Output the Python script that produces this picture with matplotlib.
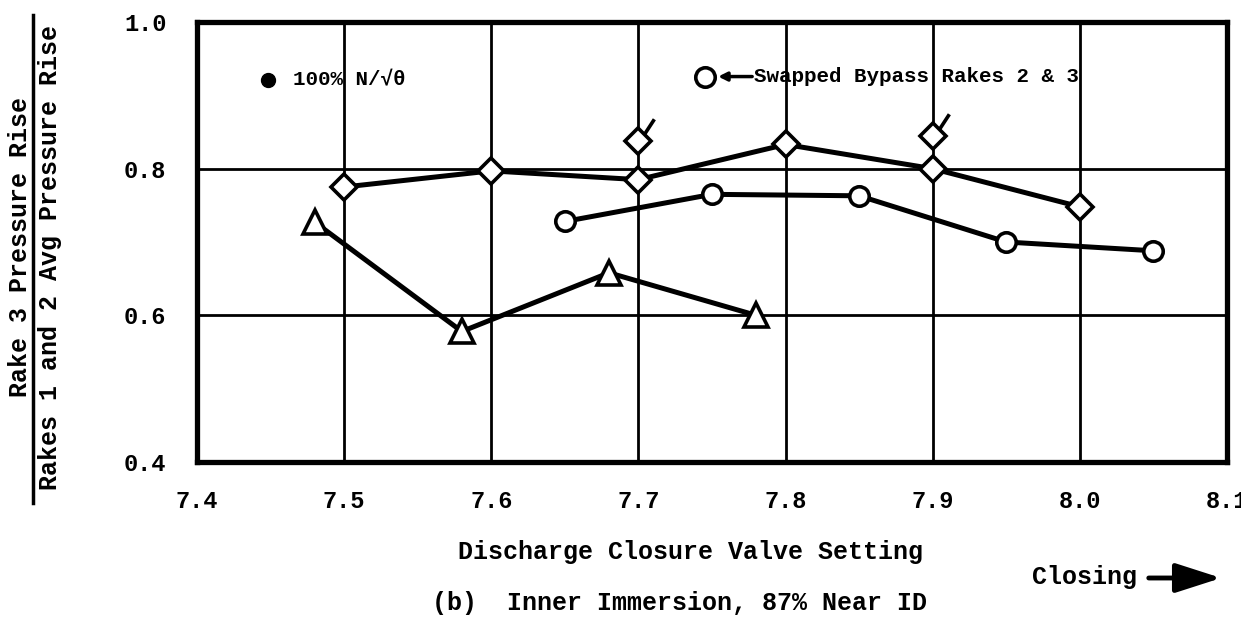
import numpy as np
import matplotlib
matplotlib.use("Agg")
import matplotlib.pyplot as plt
from matplotlib.path import Path
from matplotlib.lines import Line2D

plt.rcParams['font.family'] = ['Liberation Mono', 'DejaVu Sans Mono']
plt.rcParams['font.weight'] = 'bold'

# valve setting vs. pressure-rise ratio
diam_x = [7.5, 7.6, 7.7, 7.8, 7.9, 8.0]
diam_y = [0.775, 0.797, 0.785, 0.833, 0.800, 0.748]
flag_x = [7.7, 7.9]
flag_y = [0.838, 0.845]
circ_x = [7.65, 7.75, 7.85, 7.95, 8.05]
circ_y = [0.728, 0.765, 0.763, 0.700, 0.688]
tri_x = [7.48, 7.58, 7.68, 7.78]
tri_y = [0.727, 0.578, 0.658, 0.600]

xticks = [7.4, 7.5, 7.6, 7.7, 7.8, 7.9, 8.0, 8.1]
yticks = [0.4, 0.6, 0.8, 1.0]

W, H = 1241, 620
fig = plt.figure(figsize=(W / 100, H / 100), dpi=100)
ax = fig.add_axes([197 / W, 1 - 462 / H, (1227 - 197) / W, (462 - 22) / H])

ax.set_xlim(7.4, 8.1)
ax.set_ylim(0.4, 1.0)
ax.set_xticks(xticks)
ax.set_yticks(yticks)
ax.set_xticklabels(['%.1f' % v for v in xticks], fontsize=17)
ax.set_yticklabels(['%.1f' % v for v in yticks], fontsize=17)
ax.tick_params(length=0)
ax.tick_params(axis='x', pad=20)
ax.tick_params(axis='y', pad=22)
ax.grid(True, color='black', lw=2)
for sp in ax.spines.values():
    sp.set_linewidth(3.8)

mk = dict(color='black', lw=3.6, mfc='white', mec='black', mew=2.6, zorder=3)
ax.plot(diam_x, diam_y, marker='D', ms=13, **mk)
ax.plot(circ_x, circ_y, marker='o', ms=14, **mk)
ax.plot(tri_x, tri_y, marker='^', ms=17, **mk)

# flagged diamonds (tick off the upper-right edge)
ax.plot(flag_x, flag_y, ls='none', marker='D', ms=13, mfc='white',
        mec='black', mew=2.6, zorder=4)
flag = Path([(0.36, 0.42), (1.0, 1.4)], [Path.MOVETO, Path.LINETO])
ax.plot(flag_x, flag_y, ls='none', marker=flag, ms=32, mec='black',
        mew=2.6, fillstyle='none', zorder=4)

# keys written on the chart
ax.plot([0.069], [0.868], transform=ax.transAxes, marker='o', ms=10,
        color='black', zorder=5, clip_on=False)
ax.text(0.093, 0.868, '100% N/√θ', transform=ax.transAxes, fontsize=15,
        va='center', ha='left')
ax.plot([0.493], [0.876], transform=ax.transAxes, marker='o', ms=14,
        mfc='white', mec='black', mew=2.6, zorder=5)
ax.annotate('', xy=(0.506, 0.876), xytext=(0.539, 0.876),
            xycoords='axes fraction', textcoords='axes fraction',
            arrowprops=dict(arrowstyle='-|>,head_length=0.5,head_width=0.25',
                            color='black', lw=2.5, shrinkA=0, shrinkB=0))
ax.text(0.541, 0.876, 'Swapped Bypass Rakes 2 & 3', transform=ax.transAxes,
        fontsize=15, va='center', ha='left')

# axis titles
fig.text(690 / W, 1 - 552 / H, 'Discharge Closure Valve Setting',
         fontsize=18, ha='center', va='center')
fig.text(680 / W, 1 - 603 / H, '(b)  Inner Immersion, 87% Near ID',
         fontsize=18, ha='center', va='center')
fig.text(1032 / W, 1 - 577 / H, 'Closing', fontsize=18, ha='left', va='center')
fig.add_artist(matplotlib.patches.FancyArrowPatch(
    (1146 / W, 1 - 578 / H), (1224 / W, 1 - 578 / H),
    transform=fig.transFigure, arrowstyle='-|>,head_length=1.4,head_width=0.45',
    mutation_scale=20, color='black', lw=3.5))

# ratio label on the y axis
fig.text(20 / W, 1 - 247 / H, 'Rake 3 Pressure Rise', rotation=90,
         fontsize=18, ha='center', va='center')
fig.text(50 / W, 1 - 258 / H, 'Rakes 1 and 2 Avg Pressure Rise', rotation=90,
         fontsize=18, ha='center', va='center')
fig.add_artist(Line2D([33 / W, 33 / W], [1 - 15 / H, 1 - 503 / H],
                      transform=fig.transFigure, color='black', lw=2.5))

fig.savefig('out.png', dpi=100)
